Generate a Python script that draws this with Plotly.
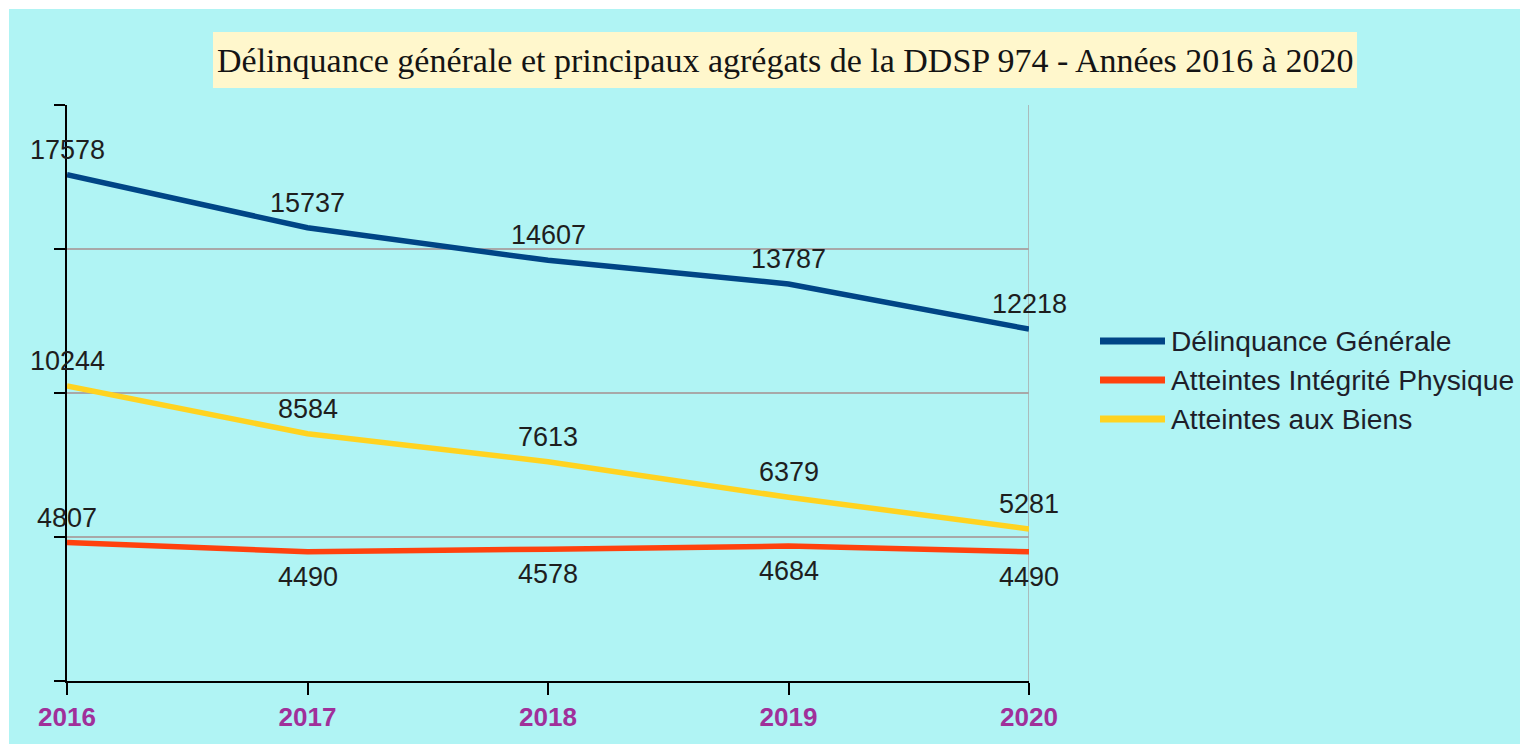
import plotly.graph_objects as go

# Années et valeurs des agrégats (DDSP 974)
years = [2016, 2017, 2018, 2019, 2020]
series_names = ["Délinquance Générale", "Atteintes Intégrité Physique", "Atteintes aux Biens"]
delinquance_generale = [17578, 15737, 14607, 13787, 12218]
atteintes_integrite = [4807, 4490, 4578, 4684, 4490]
atteintes_biens = [10244, 8584, 7613, 6379, 5281]
y_ticks = [0, 5000, 10000, 15000, 20000]

series_values = [delinquance_generale, atteintes_integrite, atteintes_biens]
colors = ["#004586", "#ff420e", "#ffd320"]
# décalage vertical des étiquettes (px) : au-dessus ou en dessous du point
label_shifts = [
    [25, 25, 25, 25, 25],
    [25, -25, -25, -25, -25],
    [25, 25, 25, 25, 25],
]

W, H = 1520, 746
L, R, T, B = 67, 1029, 105, 681


def px_x(x):
    return (x - L) / (R - L)


def px_y(y):
    return (B - y) / (B - T)


fig = go.Figure()

for name, vals, col in zip(series_names, series_values, colors):
    fig.add_trace(go.Scatter(
        x=years, y=vals, mode="lines", name=name,
        line=dict(color=col, width=5.5), showlegend=False,
        hoverinfo="x+y",
    ))

annotations = []
for vals, shifts in zip(series_values, label_shifts):
    for xv, yv, s in zip(years, vals, shifts):
        annotations.append(dict(
            x=xv, y=yv, xref="x", yref="y", text=str(yv), showarrow=False,
            yshift=s, font=dict(family="Liberation Sans", size=27, color="#1e1e1e"),
        ))

# légende dessinée à droite
shapes = []
legend_rows = [341, 380, 419]
for name, col, yy in zip(series_names, colors, legend_rows):
    shapes.append(dict(type="line", xref="paper", yref="paper",
                       x0=px_x(1100), x1=px_x(1165), y0=px_y(yy), y1=px_y(yy),
                       line=dict(color=col, width=7)))
    annotations.append(dict(x=px_x(1169), y=px_y(yy), xref="paper", yref="paper",
                            text=name, showarrow=False, xanchor="left", yanchor="middle",
                            font=dict(family="Liberation Sans", size=28.2, color="#1e1e2a")))

# fond cyan du graphique
shapes.insert(0, dict(type="rect", xref="paper", yref="paper", layer="below",
                      x0=px_x(9), x1=px_x(1520), y0=px_y(744), y1=px_y(9),
                      fillcolor="#b0f4f4", line=dict(width=0)))
# cadre du titre
shapes.insert(1, dict(type="rect", xref="paper", yref="paper", layer="below",
                      x0=px_x(213), x1=px_x(1357), y0=px_y(88), y1=px_y(32),
                      fillcolor="#fff7cc", line=dict(width=0)))
# bord droit de la zone de tracé
shapes.append(dict(type="line", xref="x", yref="paper", x0=2020, x1=2020, y0=0, y1=1,
                   line=dict(color="#a8a8a8", width=1.5), layer="below"))

annotations.append(dict(
    x=px_x(785), y=px_y(60), xref="paper", yref="paper", showarrow=False,
    text="Délinquance générale et principaux agrégats de la DDSP 974 - Années 2016 à 2020",
    font=dict(family="Liberation Serif", size=34, color="#141414"),
    xanchor="center", yanchor="middle",
))

fig.update_layout(
    width=W, height=H,
    margin=dict(l=L, r=W - R, t=T, b=H - B, pad=0),
    paper_bgcolor="white",
    plot_bgcolor="rgba(0,0,0,0)",
    shapes=shapes,
    annotations=annotations,
    showlegend=False,
    xaxis=dict(
        range=[2016, 2020], tickvals=years, ticktext=[str(y) for y in years],
        showgrid=False, zeroline=False,
        showline=True, linecolor="black", linewidth=2,
        ticks="outside", ticklen=12, tickwidth=2, tickcolor="black",
        tickfont=dict(family="Liberation Sans", size=26, color="#a0309a", weight="bold"),
    ),
    yaxis=dict(
        range=[0, 20000], tickvals=y_ticks, showticklabels=False,
        showgrid=True, gridcolor="#a8a8a8", gridwidth=1.5, zeroline=False,
        showline=True, linecolor="black", linewidth=2,
        ticks="outside", ticklen=11, tickwidth=2, tickcolor="black",
    ),
)

fig.write_html("out.html")
